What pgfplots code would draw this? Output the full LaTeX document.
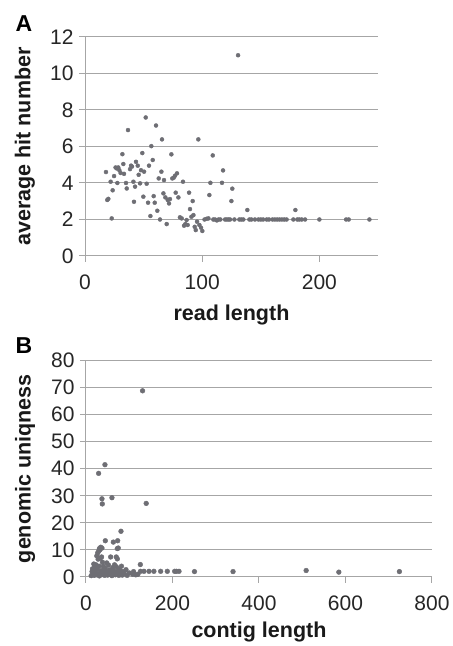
\documentclass[border=0pt]{standalone}
\usepackage{fontspec}
\setmainfont{Liberation Sans}
\usepackage{pgfplots}
\pgfplotsset{compat=1.18}

\definecolor{gridgray}{RGB}{166,166,166}
\definecolor{dotgray}{RGB}{110,110,116}

\pgfplotstableread{
x y
17.9 4.6
19.0 3.07
19.9 3.13
22.8 2.06
21.9 4.07
23.6 3.6
24.8 4.38
26.1 4.85
27.0 4.8
28.4 4.85
29.3 4.7
30.4 4.55
27.6 4.0
31.9 5.58
32.7 5.04
33.3 4.5
35.0 4.0
35.6 3.7
36.7 6.9
38.4 4.76
39.3 4.95
40.1 4.9
41.3 4.07
41.8 2.97
42.7 3.8
43.5 5.16
45.0 4.95
45.8 4.45
47.0 3.98
47.8 4.7
48.9 5.64
49.8 3.25
50.4 4.62
51.8 7.59
52.6 3.96
53.8 2.92
54.6 4.95
55.8 2.19
56.6 6.02
57.8 5.26
58.6 3.28
59.5 2.92
60.6 7.15
61.7 2.48
62.9 4.25
64.0 2.0
65.2 4.62
65.7 6.39
66.9 3.43
67.4 4.16
68.6 3.21
69.7 1.75
70.6 3.07
71.7 2.88
72.5 3.12
73.7 5.57
74.5 4.25
75.7 4.29
76.8 4.4
77.4 3.47
78.5 4.53
79.7 3.21
81.0 2.12
82.5 2.06
83.6 4.07
84.5 1.66
85.6 1.75
86.7 1.97
87.6 1.7
88.8 3.47
89.6 2.57
90.8 2.15
91.9 3.01
92.5 2.24
93.6 1.6
94.5 1.42
95.6 1.88
96.7 6.39
97.6 1.7
99.0 1.55
100.1 1.37
102.0 2.0
103.8 2.04
105.3 2.06
106.1 3.34
107.0 4.01
109.0 5.51
109.5 2.0
111.0 2.0
112.5 1.95
114.0 2.0
115.5 2.0
116.9 4.01
117.8 4.69
119.5 2.0
121.0 2.0
122.5 2.0
123.8 2.0
124.9 3.01
125.7 3.69
127.5 2.0
130.6 11.0
131.7 2.0
133.4 2.0
135.1 2.0
138.5 2.52
140.3 2.0
142.0 2.0
145.0 2.0
148.0 2.0
150.0 2.0
152.0 2.0
155.0 2.0
157.0 2.0
160.0 2.0
162.0 2.0
164.0 2.0
166.0 2.0
168.0 2.0
170.0 2.0
172.0 2.0
177.8 2.0
179.5 2.52
181.2 2.0
182.9 2.0
184.9 2.0
187.8 2.0
200.0 2.0
222.8 2.0
225.0 2.0
242.7 2.0
}\readdata

\pgfplotstableread{
x y
130.8 68.8
43.8 41.5
29.2 38.3
36.9 28.9
37.7 27.0
60.0 29.3
139.2 27.2
80.9 16.9
44.7 13.4
63.2 12.9
73.2 13.4
72.4 10.5
74.6 10.7
36.9 10.7
32 10
29 9.5
27 8.9
31 10.5
34 11
25 7.8
28 6.6
33 7.0
36 7.4
57 7.4
70 7.4
72.4 6.7
38 5.5
48 5.2
18 4.8
23 4.5
52 4.4
15 3.0
20 2.5
20 3.8
24 3.5
26 2.8
30 4.0
35 2.4
40 4.0
42 2.9
45 3.2
48 2.0
55 2.6
62 3.5
65 2.2
66 4.5
70 3.8
75 3.0
78 2.6
82 4.0
85 2.0
92.5 2.7
14 2.0
17 1.0
12 0.5
16 1.2
19 0.6
22 1.5
25 0.8
28 1.2
31 0.4
34 1.6
37 0.9
40 1.8
43 0.6
46 1.3
50 0.7
53 1.6
57 1.0
58 1.8
60 0.5
64 1.4
68 0.8
72 1.9
76 0.6
80 1.2
84 0.7
88 1.4
95 0.6
100 1.5
108 1.0
110 2.0
115 0.8
120 1.0
125.6 4.6
126 2.1
134 2.1
145.7 2.1
157 2.1
172.6 2.1
188 2.1
205 2.1
209 2.1
215 2.1
250.8 2.0
340 2.0
509 2.4
584.6 1.8
724.6 2.0
}\contigdata

\pgfplotsset{panel/.style={
  scale only axis,
  axis x line=bottom, axis y line=left,
  axis line style={draw=gridgray, line width=1pt, -},
  ymajorgrids,
  grid style={draw=gridgray, line width=1pt},
  tick align=outside, major tick length=6pt,
  tick style={draw=gridgray, line width=1pt},
  ticklabel style={font=\fontsize{21}{23}\selectfont, text=black!85},
  /pgf/number format/assume math mode=true,
  xticklabel style={yshift=-9pt},
  yticklabel style={xshift=-2pt},
  label style={font=\bfseries\fontsize{21.5}{24}\selectfont, text=black!90},
  clip=false,
}}

\begin{document}
\begin{tikzpicture}
\useasboundingbox (0pt,0pt) rectangle (453pt,646pt);

\begin{axis}[panel,
  at={(85pt,390pt)}, anchor=south west,
  width=293pt, height=219pt,
  xmin=0, xmax=250, ymin=0, ymax=12,
  xtick={0,100,200}, ytick={0,2,...,12},
  xlabel={read length}, ylabel={average hit number},
  xlabel style={at={(axis description cs:0.5,-0.27)}, anchor=center},
  ylabel style={at={(axis description cs:-0.205,0.5)}, anchor=center, rotate=0},
]
\addplot[only marks, mark=*, mark size=2pt, color=dotgray]
  table[x=x, y=y] {\readdata};
\end{axis}

\begin{axis}[panel,
  at={(86pt,69pt)}, anchor=south west,
  width=346pt, height=216.5pt,
  xmin=0, xmax=800, ymin=0, ymax=80,
  xtick={0,200,...,800}, ytick={0,10,...,80},
  xlabel={contig length}, ylabel={genomic uniqness},
  xlabel style={at={(axis description cs:0.5,-0.254)}, anchor=center},
  ylabel style={at={(axis description cs:-0.176,0.5)}, anchor=center, rotate=0},
]
\addplot[only marks, mark=*, mark size=2.4pt, color=dotgray]
  table[x=x, y=y] {\contigdata};
\end{axis}

\node[font=\bfseries\fontsize{23}{26}\selectfont] at (24pt,622pt) {A};
\node[font=\bfseries\fontsize{23}{26}\selectfont] at (24pt,300pt) {B};
\end{tikzpicture}
\end{document}
